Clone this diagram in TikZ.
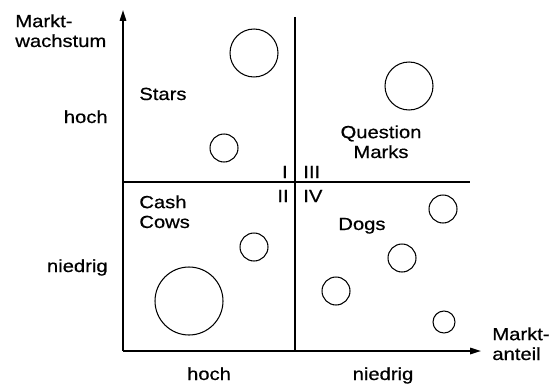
\documentclass[tikz,border=0pt]{standalone}
\usepackage{fontspec}
\setmainfont{Liberation Sans}[FakeStretch=1.15, FakeBold=0.6]
\usetikzlibrary{positioning, arrows.meta}

\tikzset{
  axis/.style={line width=0.9pt, -{Triangle[length=2.2mm, width=1.3mm]}},
  divider/.style={line width=0.8pt},
  unit/.style={circle, draw, line width=0.6pt, inner sep=0pt, minimum size=#1*0.4mm},
  lbl/.style={inner sep=0pt, font=\fontsize{10}{11.3}\selectfont},
}

\begin{document}
\begin{tikzpicture}[x=0.02cm, y=-0.02cm]
  \useasboundingbox (0,0) rectangle (550,385);

  % axes
  \coordinate (O)    at (123,351);
  \coordinate (ytop) at (123,10);
  \coordinate (xend) at (481,351);
  \draw[axis] (O) -- (ytop);
  \draw[axis] (O) -- (xend);

  % quadrant lines
  \coordinate (vtop)   at (295,17);
  \coordinate (vbot)   at (295,351);
  \coordinate (hleft)  at (123,182);
  \coordinate (hright) at (470,182);
  \draw[divider] (vtop) -- (vbot);
  \draw[divider] (hleft) -- (hright);

  % axis labels (base = last line)
  \node[lbl, anchor=base west, align=left] (wachstum) at (15,47)  {Markt-\\wachstum};
  \node[lbl, anchor=base west, align=left] (anteil)   at (492,360) {Markt-\\anteil};
  \node[lbl, anchor=base east] (yhoch)    at (108,123) {hoch};
  \node[lbl, anchor=base east] (yniedrig) at (108,272) {niedrig};
  \node[lbl, anchor=base] (xhoch)    at (209,380) {hoch};
  \node[lbl, anchor=base] (xniedrig) at (383,380) {niedrig};

  % quadrants
  \node[lbl, anchor=base east] (q1) at (288,178) {I};
  \node[lbl, anchor=base east] (q2) at (289,202) {II};
  \node[lbl, anchor=base west] (q3) at (303,178) {III};
  \node[lbl, anchor=base west] (q4) at (303,202) {IV};

  \node[lbl, anchor=base west] (stars) at (139,100) {Stars};
  \node[lbl, anchor=base, align=center] (qm) at (381,158) {Question\\Marks};
  \node[lbl, anchor=base west, align=left] (cows) at (139,228) {Cash\\Cows};
  \node[lbl, anchor=base west] (dogs) at (338,230) {Dogs};

  % business units
  \node[unit=24] (s1) at (254,53)  {};
  \node[unit=14] (s2) at (224,148) {};
  \node[unit=24] (m1) at (409,86)  {};
  \node[unit=14] (c1) at (254,247) {};
  \node[unit=34] (c2) at (189,301) {};
  \node[unit=14] (d1) at (443,209) {};
  \node[unit=14] (d2) at (402,258) {};
  \node[unit=14] (d3) at (336,291) {};
  \node[unit=11] (d4) at (444,322) {};
\end{tikzpicture}
\end{document}
